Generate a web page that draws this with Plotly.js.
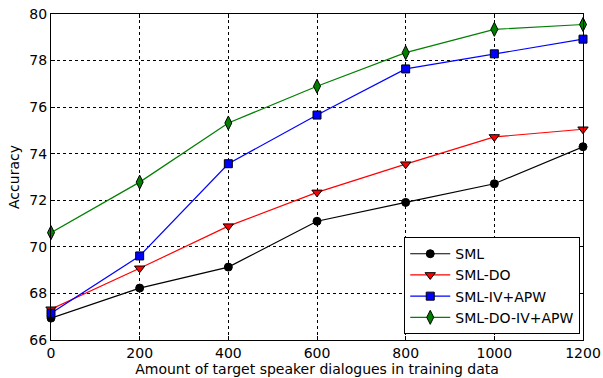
<!DOCTYPE html>
<html>
<head>
<meta charset="utf-8">
<script src="https://cdn.plot.ly/plotly-3.0.1.min.js"></script>
<style>html,body{margin:0;padding:0;background:#fff;}#chart{width:603px;height:378px;}</style>
</head>
<body>
<div id="chart"></div>
<script>
const xValues = [0, 200, 400, 600, 800, 1000, 1200];
const smlValues = [66.94, 68.23, 69.13, 71.1, 71.91, 72.71, 74.3];
const smlDoValues = [67.32, 69.08, 70.89, 72.34, 73.55, 74.72, 75.05];
const smlIvApwValues = [67.15, 69.61, 73.57, 75.66, 77.64, 78.29, 78.92];
const smlDoIvApwValues = [70.61, 72.78, 75.32, 76.9, 78.34, 79.34, 79.55];
const seriesNames = ["SML", "SML-DO", "SML-IV+APW", "SML-DO-IV+APW"];
const xTicks = [0, 200, 400, 600, 800, 1000, 1200];
const yTicks = [66, 68, 70, 72, 74, 76, 78, 80];

const styles = [
  {color: "#000000", symbol: "circle", size: 8},
  {color: "#ff0000", symbol: "triangle-down", size: 9},
  {color: "#0000ff", symbol: "square", size: 8},
  {color: "#007f00", symbol: "diamond-tall", size: 10}
];
const allY = [smlValues, smlDoValues, smlIvApwValues, smlDoIvApwValues];
const traces = allY.map((ys, i) => ({
  x: xValues, y: ys, name: seriesNames[i], type: "scatter", mode: "lines+markers",
  line: {color: styles[i].color, width: 1.2},
  marker: {symbol: styles[i].symbol, size: styles[i].size, color: styles[i].color,
           line: {color: "#000000", width: 1}},
  cliponaxis: false
}));

const font = {family: "DejaVu Sans", size: 14, color: "#000"};
const axisCommon = {
  showline: true, linecolor: "#000", linewidth: 1, mirror: "allticks",
  ticks: "inside", ticklen: 4, tickcolor: "#000", tickwidth: 1,
  showgrid: true, gridcolor: "#000", griddash: "dot", gridwidth: 1,
  zeroline: false, tickfont: font
};
const layout = {
  width: 603, height: 378,
  margin: {l: 51, r: 20, t: 14, b: 38},
  paper_bgcolor: "#fff", plot_bgcolor: "#fff",
  font: font,
  showlegend: true,
  xaxis: Object.assign({}, axisCommon, {
    range: [0, 1200], tickvals: xTicks, ticktext: xTicks.map(String),
    title: {text: "Amount of target speaker dialogues in training data", font: font, standoff: 2}
  }),
  yaxis: Object.assign({}, axisCommon, {
    range: [66, 80], tickvals: yTicks, ticktext: yTicks.map(String),
    title: {text: "Accuracy", font: font, standoff: 6}
  }),
  legend: {
    x: 0.664, y: 0.018, xanchor: "left", yanchor: "bottom",
    bordercolor: "#000", borderwidth: 1, bgcolor: "#fff",
    font: {family: "DejaVu Sans", size: 14, color: "#000"},
    tracegroupgap: 0, itemwidth: 40
  }
};
Plotly.newPlot("chart", traces, layout, {displayModeBar: false, staticPlot: true});
</script>
</body>
</html>
